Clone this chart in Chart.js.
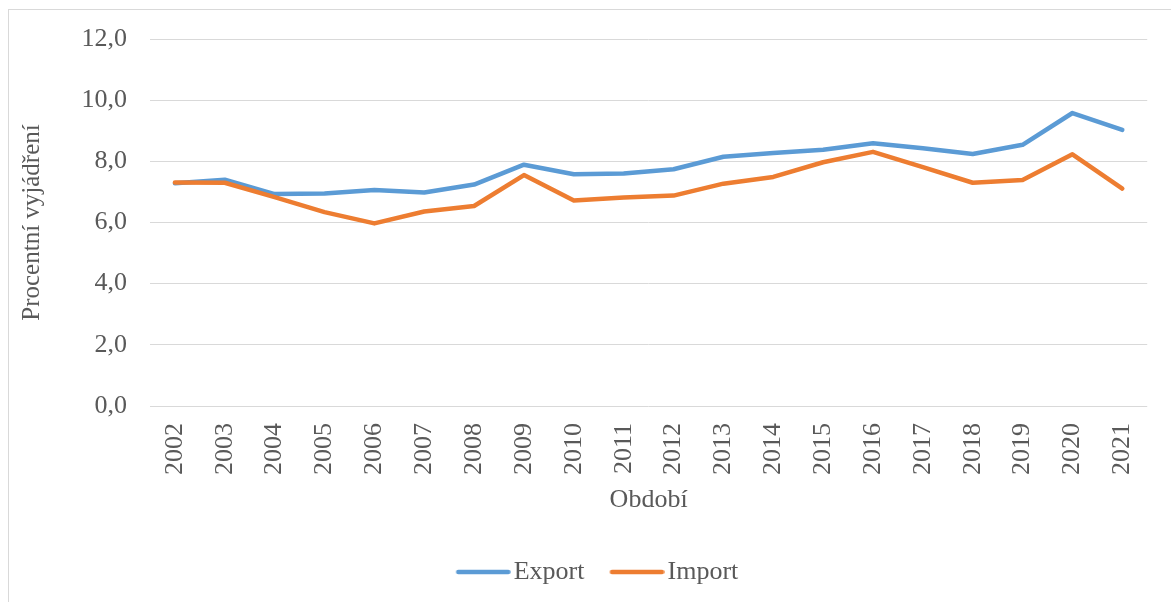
<!DOCTYPE html>
<html>
<head>
<meta charset="utf-8">
<script src="https://cdn.jsdelivr.net/npm/chart.js@4/dist/chart.umd.min.js"></script>
<style>
  html, body { margin: 0; padding: 0; background: #ffffff; }
  #wrap { position: absolute; left: 0; top: 0; width: 1171px; height: 602px; }
</style>
</head>
<body>
<div id="wrap"><canvas id="c" width="1171" height="602"></canvas></div>
<script>
const categories = ["2002","2003","2004","2005","2006","2007","2008","2009","2010","2011","2012","2013","2014","2015","2016","2017","2018","2019","2020","2021"];
const exportValues = [7.28, 7.40, 6.93, 6.95, 7.06, 6.98, 7.24, 7.89, 7.58, 7.60, 7.74, 8.15, 8.27, 8.38, 8.59, 8.43, 8.24, 8.54, 9.58, 9.03];
const importValues = [7.31, 7.30, 6.83, 6.34, 5.97, 6.36, 6.54, 7.55, 6.72, 6.82, 6.88, 7.27, 7.49, 7.97, 8.31, 7.81, 7.30, 7.39, 8.23, 7.11];
const yTicks = [0, 2, 4, 6, 8, 10, 12];

const FONT = '"Liberation Serif", "Times New Roman", serif';
const TEXT = '#595959';
const GRID = '#d9d9d9';
const EXPORT_COLOR = '#5B9BD5';
const IMPORT_COLOR = '#ED7D31';

// legend symbol: a thick rounded line, drawn so that the text follows it closely
function legendLine(color) {
  const c = document.createElement('canvas');
  c.width = 62; c.height = 10;
  const g = c.getContext('2d');
  g.strokeStyle = color;
  g.lineWidth = 4.5;
  g.lineCap = 'round';
  g.beginPath();
  g.moveTo(9.5, 5);
  g.lineTo(62 - 2.5, 5);
  g.stroke();
  return c;
}

const frame = {
  id: 'frame',
  beforeDraw(chart) {
    const ctx = chart.ctx;
    ctx.save();
    ctx.fillStyle = '#ffffff';
    ctx.fillRect(0, 0, chart.width, chart.height);
    ctx.strokeStyle = GRID;
    ctx.lineWidth = 1;
    ctx.strokeRect(8.5, 9.5, 1300, 800);
    ctx.restore();
  },
  afterLayout(chart) {
    if (chart.legend) { chart.legend.left += 23; chart.legend.right += 23; }
  }
};

new Chart(document.getElementById('c'), {
  type: 'line',
  data: {
    labels: categories,
    datasets: [
      { label: 'Export', data: exportValues, borderColor: EXPORT_COLOR, backgroundColor: EXPORT_COLOR,
        borderWidth: 4.5, borderCapStyle: 'round', borderJoinStyle: 'round', pointRadius: 0, tension: 0, order: 1,
        pointStyle: legendLine(EXPORT_COLOR) },
      { label: 'Import', data: importValues, borderColor: IMPORT_COLOR, backgroundColor: IMPORT_COLOR,
        borderWidth: 4.5, borderCapStyle: 'round', borderJoinStyle: 'round', pointRadius: 0, tension: 0, order: 0,
        pointStyle: legendLine(IMPORT_COLOR) }
    ]
  },
  options: {
    responsive: false,
    animation: false,
    layout: { padding: { top: 39, right: 20, bottom: 7, left: 0 } },
    plugins: {
      tooltip: { enabled: false },
      legend: {
        position: 'bottom',
        labels: {
          usePointStyle: true,
          pointStyleWidth: 42,
          padding: 28,
          color: TEXT,
          font: { family: FONT, size: 26 },
          sort: (a, b) => a.datasetIndex - b.datasetIndex
        }
      }
    },
    scales: {
      x: {
        type: 'category',
        offset: true,
        grid: { display: false, drawTicks: false },
        border: { display: false },
        ticks: { autoSkip: false, minRotation: 90, maxRotation: 90, padding: 17, color: TEXT,
                 font: { family: FONT, size: 26 } },
        title: { display: true, text: 'Období', color: TEXT, font: { family: FONT, size: 26 },
                 padding: { top: 0, bottom: 15 } },
        afterFit(scale) { scale.height = 125; }
      },
      y: {
        min: 0, max: 12,
        afterBuildTicks(scale) { scale.ticks = yTicks.map(v => ({ value: v })); },
        grid: { color: GRID, lineWidth: 1, drawTicks: false },
        border: { display: false },
        ticks: { padding: 23, color: TEXT, font: { family: FONT, size: 26 },
                 callback: v => Number(v).toFixed(1).replace('.', ',') },
        title: { display: true, text: 'Procentní vyjádření', color: TEXT, font: { family: FONT, size: 25 },
                 padding: { top: 17, bottom: 0 } },
        afterFit(scale) { scale.width = 150; }
      }
    }
  },
  plugins: [frame]
});
</script>
</body>
</html>
